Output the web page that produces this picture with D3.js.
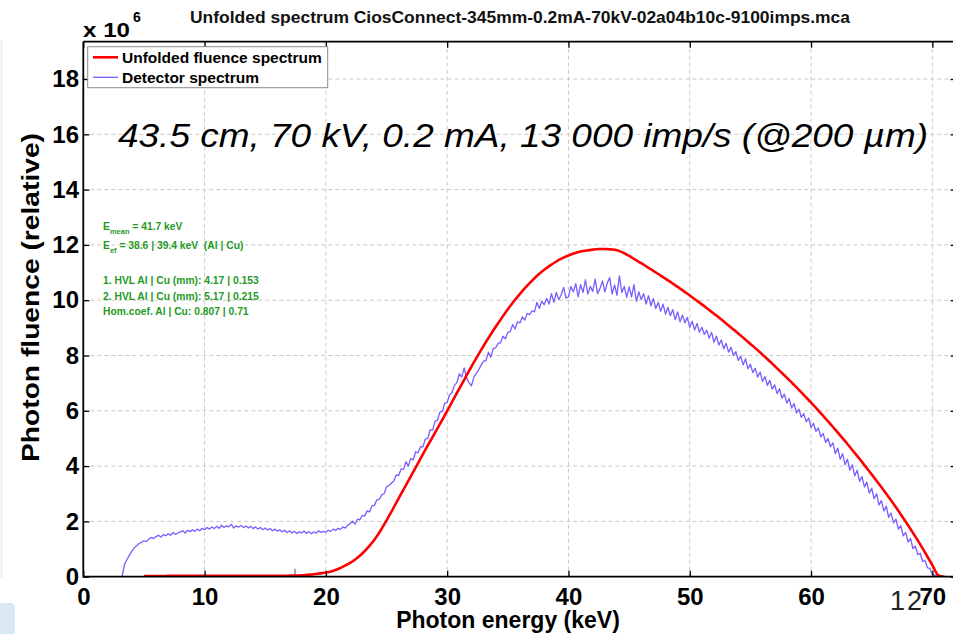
<!DOCTYPE html>
<html>
<head>
<meta charset="utf-8">
<script src="https://cdn.jsdelivr.net/npm/d3@7/dist/d3.min.js"></script>
<style>
  html, body { margin: 0; padding: 0; background: #ffffff; }
  svg { display: block; }
  text { font-family: "Liberation Sans", Arial, Helvetica, sans-serif; }
</style>
</head>
<body>
<svg id="chart" width="953" height="634"></svg>
<script>
// ---- data ----------------------------------------------------------------
const titleText = "Unfolded spectrum CiosConnect-345mm-0.2mA-70kV-02a04b10c-9100imps.mca";
const xLabel = "Photon energy (keV)";
const yLabel = "Photon fluence (relative)";
const legendNames = ["Unfolded fluence spectrum", "Detector spectrum"];
const xTicks = [0, 10, 20, 30, 40, 50, 60, 70];
const yTicks = [0, 2, 4, 6, 8, 10, 12, 14, 16, 18];
const xDomain = [0, 72];
const yDomain = [0, 19.35];          // in units of 10^6
const markerEnergy = 17.45;          // small grey marker on the energy axis
const noteText = "43.5 cm, 70 kV, 0.2 mA, 13 000 imp/s (@200 \u00b5m)";
const slideNumber = "12";

// Unfolded fluence spectrum (x 10^6), 0.5 keV steps starting at 5 keV
const unfoldedStart = 5, unfoldedStep = 0.5;
const unfolded = [
  0.02,0.02,0.02,0.02,0.03,0.03,0.03,0.03,0.03,0.03,     // 5.0 - 9.5
  0.03,0.03,0.03,0.03,0.03,0.03,0.03,0.03,0.03,0.03,     // 10.0 - 14.5
  0.03,0.03,0.03,0.03,0.04,0.04,0.05,0.07,0.09,0.12,     // 15.0 - 19.5
  0.15,0.20,0.28,0.38,0.50,0.65,0.84,1.07,1.34,1.66,     // 20.0 - 24.5
  2.04,2.43,2.83,3.23,3.63,4.03,4.43,4.82,5.21,5.60,     // 25.0 - 29.5
  6.00,6.40,6.80,7.20,7.60,7.98,8.35,8.70,9.04,9.36,     // 30.0 - 34.5
  9.67,9.96,10.23,10.48,10.71,10.92,11.10,11.26,11.40,11.52, // 35.0 - 39.5
  11.62,11.70,11.76,11.80,11.83,11.85,11.85,11.84,11.81,11.72, // 40.0 - 44.5
  11.60,11.47,11.34,11.20,11.06,10.92,10.78,10.63,10.48,10.33, // 45.0 - 49.5
  10.17,10.01,9.85,9.68,9.51,9.34,9.16,8.98,8.80,8.61,   // 50.0 - 54.5
  8.42,8.23,8.03,7.83,7.62,7.41,7.20,6.98,6.76,6.53,     // 55.0 - 59.5
  6.30,6.06,5.82,5.57,5.32,5.06,4.80,4.53,4.26,3.98,     // 60.0 - 64.5
  3.70,3.41,3.12,2.82,2.51,2.19,1.86,1.52,1.17,0.80,     // 65.0 - 69.5
  0.42,0.05,0.00                                         // 70.0 - 71.0
];

// Detector spectrum (x 10^6), 0.2 keV channels starting at 0 keV
const detectorStart = 0, detectorStep = 0.2;
const detector = [
  0,0,0,0,0,                    // 0
  0,0,0,0,0,                    // 1
  0,0,0,0,0,                    // 2
  0,0,0.45,0.62,0.78,           // 3
  0.92,1.05,1.12,1.20,1.24,     // 4
  1.30,1.27,1.36,1.42,1.38,     // 5
  1.45,1.50,1.43,1.52,1.48,     // 6
  1.55,1.50,1.60,1.53,1.58,     // 7
  1.62,1.66,1.58,1.68,1.63,     // 8
  1.70,1.64,1.72,1.66,1.75,     // 9
  1.70,1.78,1.72,1.80,1.74,     // 10
  1.82,1.75,1.86,1.78,1.84,     // 11
  1.80,1.90,1.76,1.84,1.79,     // 12
  1.85,1.78,1.83,1.76,1.82,     // 13
  1.74,1.80,1.72,1.78,1.70,     // 14
  1.76,1.69,1.74,1.66,1.72,     // 15
  1.65,1.70,1.62,1.68,1.60,     // 16
  1.66,1.58,1.64,1.56,1.62,     // 17
  1.58,1.65,1.57,1.63,1.55,     // 18
  1.62,1.58,1.66,1.60,1.64,     // 19
  1.61,1.68,1.64,1.72,1.67,     // 20
  1.75,1.71,1.80,1.76,1.86,     // 21
  1.92,2.01,1.90,2.08,2.06,     // 22
  2.22,2.20,2.38,2.34,2.56,     // 23
  2.58,2.78,2.80,2.96,3.00,     // 24
  3.25,3.30,3.38,3.46,3.68,     // 25
  3.66,3.90,3.88,4.16,4.00,     // 26
  4.28,4.22,4.52,4.48,4.70,     // 27
  4.70,4.98,5.00,5.32,5.30,     // 28
  5.62,5.66,5.95,5.98,6.28,     // 29
  6.30,6.58,6.66,6.92,7.02,     // 30
  7.34,7.22,7.55,7.18,7.02,     // 31
  6.90,7.22,7.35,7.48,7.66,     // 32
  7.80,7.82,8.12,7.94,8.26,     // 33
  8.28,8.44,8.46,8.70,8.60,     // 34
  8.84,8.86,9.12,8.96,9.22,     // 35
  9.18,9.40,9.28,9.52,9.48,     // 36
  9.62,9.58,9.92,9.70,9.96,     // 37
  9.84,10.06,9.86,10.24,9.92,   // 38
  10.28,10.02,10.20,10.46,10.08,// 39
  10.12,10.50,10.30,10.60,10.12,// 40
  10.56,10.28,10.74,10.22,10.50,// 41
  10.32,10.76,10.24,10.42,10.70,// 42
  10.30,10.62,10.82,10.22,10.55,// 43
  10.18,10.88,10.28,10.50,10.10,// 44
  10.48,10.12,10.56,9.96,10.30, // 45
  10.02,10.24,9.86,10.16,9.80,  // 46
  10.06,9.70,9.92,9.60,9.86,    // 47
  9.50,9.74,9.44,9.66,9.30,     // 48
  9.58,9.22,9.46,9.18,9.38,     // 49
  9.02,9.24,8.92,9.16,8.84,     // 50
  9.02,8.76,8.92,8.62,8.84,     // 51
  8.48,8.70,8.38,8.56,8.24,     // 52
  8.44,8.12,8.30,8.00,8.14,     // 53
  7.82,7.98,7.66,7.88,7.52,     // 54
  7.68,7.38,7.54,7.22,7.40,     // 55
  7.06,7.24,6.92,7.10,6.78,     // 56
  6.94,6.62,6.80,6.46,6.60,     // 57
  6.28,6.44,6.10,6.26,5.92,     // 58
  6.06,5.76,5.90,5.60,5.74,     // 59
  5.40,5.55,5.26,5.38,5.06,     // 60
  5.18,4.86,5.00,4.70,4.84,     // 61
  4.45,4.65,4.25,4.45,4.05,     // 62
  4.25,3.85,4.05,3.65,3.85,     // 63
  3.45,3.62,3.25,3.42,3.02,     // 64
  3.20,2.82,3.00,2.60,2.75,     // 65
  2.38,2.55,2.15,2.30,1.95,     // 66
  2.08,1.72,1.85,1.48,1.60,     // 67
  1.25,1.38,1.02,1.10,0.80,     // 68
  0.85,0.55,0.58,0.32,0.30,     // 69
  0.08,0.06,0.02,0,0,           // 70
  0,0,0,0,0,                    // 71
  0                             // 72
];

// ---- layout --------------------------------------------------------------
const svg = d3.select("#chart");
const W = 953, H = 634;
const plot = { left: 83.3, top: 41.7, bottom: 576.7 };

const x = d3.scaleLinear().domain(xDomain).range([plot.left, 956.6]);
const y = d3.scaleLinear().domain(yDomain).range([plot.bottom, plot.top]);
const plotRight = x(xDomain[1]);

const red = "#ff0000";
const violet = "#7a5cff";
const green = "#1f9a1f";

// faint slide decoration on the left edge
svg.append("line").attr("x1", 1.5).attr("x2", 1.5).attr("y1", 40).attr("y2", 578)
  .attr("stroke", "#ececec").attr("stroke-width", 1.5);
svg.append("path")
  .attr("d", `M0,${603} L12,${603} L15,${606} L15,${H} L0,${H} Z`)
  .attr("fill", "#d8e9f1");

// clip region for the curves
svg.append("defs").append("clipPath").attr("id", "plotClip")
  .append("rect").attr("x", plot.left).attr("y", plot.top)
  .attr("width", plotRight - plot.left).attr("height", plot.bottom - plot.top);

// grid lines
const grid = svg.append("g").attr("stroke", "#c9c9c9").attr("stroke-width", 1)
  .attr("stroke-dasharray", "4,3");
grid.selectAll("line.gx").data(xTicks.filter(d => d > 0)).join("line")
  .attr("x1", d => x(d)).attr("x2", d => x(d))
  .attr("y1", plot.top).attr("y2", plot.bottom);
grid.selectAll("line.gy").data(yTicks.filter(d => d > 0)).join("line")
  .attr("x1", plot.left).attr("x2", plotRight)
  .attr("y1", d => y(d)).attr("y2", d => y(d));

// ---- axes ----------------------------------------------------------------
const tickFont = g => g.selectAll("text")
  .attr("font-family", "'Liberation Sans', Arial, sans-serif")
  .attr("font-size", 24).attr("font-weight", "bold").attr("fill", "#000");

const xAxis = svg.append("g").attr("transform", `translate(0,${plot.bottom})`)
  .call(d3.axisBottom(x).tickValues(xTicks).tickFormat(d3.format("d"))
    .tickSizeInner(-6).tickSizeOuter(0).tickPadding(11.3))
  .call(g => g.select(".domain").remove())
  .call(tickFont);
xAxis.selectAll("line").attr("stroke", "#000").attr("stroke-width", 1.3);

const yAxis = svg.append("g").attr("transform", `translate(${plot.left},0)`)
  .call(d3.axisLeft(y).tickValues(yTicks).tickFormat(d3.format("d"))
    .tickSizeInner(-6).tickSizeOuter(0).tickPadding(4.3))
  .call(g => g.select(".domain").remove())
  .call(tickFont);
yAxis.selectAll("line").attr("stroke", "#000").attr("stroke-width", 1.3);

// mirrored ticks on top and right
svg.append("g").attr("transform", `translate(0,${plot.top})`)
  .call(d3.axisTop(x).tickValues(xTicks).tickFormat("").tickSizeInner(-6).tickSizeOuter(0))
  .call(g => g.select(".domain").remove())
  .selectAll("line").attr("stroke", "#000").attr("stroke-width", 1.3);
svg.append("g").attr("transform", `translate(${plotRight},0)`)
  .call(d3.axisRight(y).tickValues(yTicks).tickFormat("").tickSizeInner(-6).tickSizeOuter(0))
  .call(g => g.select(".domain").remove())
  .selectAll("line").attr("stroke", "#000").attr("stroke-width", 1.3);

// small grey marker on the energy axis
svg.append("line")
  .attr("x1", x(markerEnergy)).attr("x2", x(markerEnergy))
  .attr("y1", plot.bottom - 8).attr("y2", plot.bottom)
  .attr("stroke", "#8c8c8c").attr("stroke-width", 1.5);

// ---- curves --------------------------------------------------------------
const curves = svg.append("g").attr("clip-path", "url(#plotClip)");

const detectorPts = detector.map((v, i) => [detectorStart + i * detectorStep, v]);
const unfoldedPts = unfolded.map((v, i) => [unfoldedStart + i * unfoldedStep, v]);

const line = d3.line().x(d => x(d[0])).y(d => y(d[1]));

curves.append("path").datum(detectorPts)
  .attr("d", line).attr("fill", "none")
  .attr("stroke", violet).attr("stroke-width", 1.3).attr("stroke-linejoin", "round");

curves.append("path").datum(unfoldedPts)
  .attr("d", line.curve(d3.curveMonotoneX)).attr("fill", "none")
  .attr("stroke", red).attr("stroke-width", 2.6).attr("stroke-linejoin", "round");

// plot frame
svg.append("path")
  .attr("d", `M${plot.left},${plot.top} H${plotRight} M${plot.left},${plot.top} V${plot.bottom} H${plotRight}`)
  .attr("fill", "none").attr("stroke", "#000").attr("stroke-width", 1.8);

// ---- texts ---------------------------------------------------------------
svg.append("text").attr("x", 520).attr("y", 23)
  .attr("text-anchor", "middle").attr("font-size", 16).attr("font-weight", "bold")
  .attr("textLength", 660).attr("lengthAdjust", "spacingAndGlyphs")
  .attr("fill", "#111").text(titleText);

svg.append("text").attr("x", 83).attr("y", 37)
  .attr("font-size", 21).attr("font-weight", "bold").attr("fill", "#000")
  .attr("textLength", 47).attr("lengthAdjust", "spacingAndGlyphs")
  .text("x 10");
svg.append("text").attr("x", 133).attr("y", 21.5)
  .attr("font-size", 14).attr("font-weight", "bold").attr("fill", "#000")
  .text("6");

svg.append("text")
  .attr("transform", `translate(38.5,${297.5}) rotate(-90)`)
  .attr("text-anchor", "middle").attr("font-size", 24).attr("font-weight", "bold")
  .attr("textLength", 329).attr("lengthAdjust", "spacingAndGlyphs")
  .attr("fill", "#000").text(yLabel);

svg.append("text").attr("x", 508).attr("y", 628)
  .attr("text-anchor", "middle").attr("font-size", 23).attr("font-weight", "bold")
  .attr("fill", "#000").text(xLabel);

// condition note
svg.append("text").attr("x", 118).attr("y", 147)
  .attr("font-size", 34).attr("font-style", "italic").attr("fill", "#000")
  .attr("textLength", 810).attr("lengthAdjust", "spacingAndGlyphs")
  .text(noteText);

// beam quality summary
const info = svg.append("g").attr("fill", green).attr("font-size", 10.3).attr("font-weight", "bold");
const eMean = info.append("text").attr("x", 103).attr("y", 229.5);
eMean.append("tspan").text("E");
eMean.append("tspan").attr("dy", 4).attr("font-size", 7.5).text("mean");
eMean.append("tspan").attr("dy", -4).text(" = 41.7 keV");
const eEff = info.append("text").attr("x", 103).attr("y", 249);
eEff.append("tspan").text("E");
eEff.append("tspan").attr("dy", 4).attr("font-size", 7.5).text("ef");
eEff.append("tspan").attr("dy", -4).text(" = 38.6 | 39.4 keV\u00a0\u00a0(Al | Cu)");
info.append("text").attr("x", 103).attr("y", 284).text("1. HVL Al | Cu (mm): 4.17 | 0.153");
info.append("text").attr("x", 103).attr("y", 300).text("2. HVL Al | Cu (mm): 5.17 | 0.215");
info.append("text").attr("x", 103).attr("y", 314.5).text("Hom.coef. Al | Cu: 0.807 | 0.71");

// legend
const legend = svg.append("g");
legend.append("rect").attr("x", 87.7).attr("y", 46.7).attr("width", 240).attr("height", 41)
  .attr("fill", "#fff").attr("stroke", "#8a8a8a").attr("stroke-width", 1);
const legendColors = [red, violet];
const legendWidths = [2.6, 1.3];
legendNames.forEach((name, i) => {
  const ly = 57.3 + i * 20;
  legend.append("line").attr("x1", 93).attr("x2", 118).attr("y1", ly).attr("y2", ly)
    .attr("stroke", legendColors[i]).attr("stroke-width", legendWidths[i]);
  legend.append("text").attr("x", 122).attr("y", ly + 5.6)
    .attr("font-size", 15.5).attr("font-weight", "bold").attr("fill", "#000").text(name);
});

// slide number
svg.append("text").attr("x", 890).attr("y", 610)
  .attr("font-family", "'DejaVu Sans', sans-serif").attr("font-weight", 200)
  .attr("font-size", 27).attr("letter-spacing", 2).attr("fill", "#222")
  .text(slideNumber);
// keep the last tick label above the slide number
xAxis.raise();
</script>
</body>
</html>
